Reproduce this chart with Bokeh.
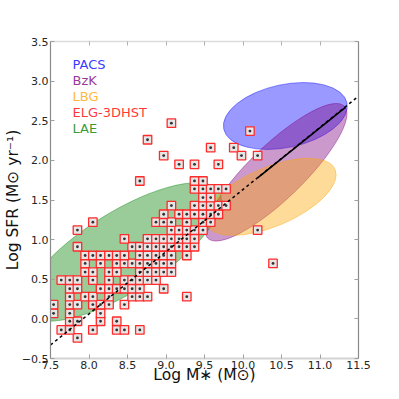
import math
from bokeh.plotting import figure
from bokeh.models import Label, LinearAxis, FixedTicker, CustomJSTickFormatter
from bokeh.embed import file_html
from bokeh.resources import INLINE

# ELG-3DHST galaxies: log SFR of each row and the log stellar masses in that row
sfr_rows = [-0.24, -0.14, -0.03, 0.07, 0.18, 0.28, 0.38, 0.49, 0.59, 0.70,
            0.80, 0.91, 1.01, 1.12, 1.22, 1.32, 1.43, 1.53, 1.64, 1.74,
            1.95, 2.06, 2.16, 2.26, 2.37, 2.47]
mass_rows = [
    [7.85],
    [7.64, 7.75, 8.05, 8.36, 8.46, 8.66],
    [7.75, 7.85, 8.15, 8.36],
    [7.54, 7.75, 8.15],
    [7.54, 7.75, 7.85, 8.05, 8.15, 8.26, 8.46],
    [7.75, 7.95, 8.05, 8.26, 8.56, 8.66, 8.76, 9.27],
    [7.75, 7.85, 8.15, 8.26, 8.36, 8.46, 8.56, 8.66, 8.97],
    [7.64, 7.75, 7.85, 8.05, 8.26, 8.46, 8.56, 8.66, 8.76, 8.87],
    [7.95, 8.05, 8.26, 8.36, 8.66, 8.76, 8.87, 8.97, 9.07],
    [7.95, 8.15, 8.36, 8.46, 8.56, 8.66, 8.76, 8.87, 8.97, 9.07, 10.39],
    [7.95, 8.05, 8.15, 8.26, 8.36, 8.46, 8.66, 8.76, 8.87, 8.97, 9.07, 9.27],
    [7.85, 8.56, 8.66, 8.76, 8.87, 8.97, 9.07, 9.17, 9.27, 9.37],
    [8.46, 8.76, 8.87, 8.97, 9.07, 9.17, 9.27, 9.37],
    [7.85, 9.07, 9.17, 9.27, 9.37, 9.48, 10.19],
    [8.05, 8.87, 8.97, 9.07, 9.27, 9.48, 9.58],
    [8.97, 9.17, 9.27, 9.37, 9.48, 9.58, 9.68],
    [9.07, 9.37, 9.48, 9.58, 9.68, 9.78],
    [9.48, 9.58],
    [9.37, 9.48, 9.58, 9.68, 9.78],
    [8.66, 9.37, 9.48],
    [9.17, 9.37, 9.68],
    [8.97, 9.98, 10.19],
    [9.58, 9.88],
    [8.76],
    [10.09],
    [9.07],
]

# Survey regions (ellipses): centre in data units, size in pixels, tilt in degrees
ell_names = ["LAE", "PACS", "BzK", "LBG"]
ell_mass = [8.435, 10.55, 10.43, 10.36]
ell_sfr = [0.844, 2.56, 1.85, 1.54]
ell_w = [228, 126, 190, 140]
ell_h = [80, 63, 54, 59]
ell_angle = [32, 12, 44, 23]
ell_colors = ["green", "blue", "purple", "orange"]

# Main-sequence relation
ms_mass = [7.5, 11.5]
ms_sfr = [-0.33, 2.81]
ms_fit_mass = [10.19, 11.33]
ms_fit_sfr = [1.78, 2.67]

legend_names = ["PACS", "BzK", "LBG", "ELG-3DHST", "LAE"]
legend_colors = ["blue", "purple", "orange", "red", "green"]

x_ticks = [7.5, 8.0, 8.5, 9.0, 9.5, 10.0, 10.5, 11.0, 11.5]
y_ticks = [-0.5, 0.0, 0.5, 1.0, 1.5, 2.0, 2.5, 3.0, 3.5]

x_title = "Log M\u2217 (M\u2299)"
y_title = "Log SFR (M\u2299 yr\u207b\u00b9)"

mass = [m for row in mass_rows for m in row]
sfr = [s for s, row in zip(sfr_rows, mass_rows) for _ in row]

FONT = "DejaVu Sans"

p = figure(width=399, height=399, x_range=(7.5, 11.5), y_range=(-0.5, 3.5),
           output_backend="svg", toolbar_location=None,
           min_border_left=50, min_border_right=41, min_border_top=41,
           min_border_bottom=41)
p.xgrid.visible = False
p.ygrid.visible = False
p.outline_line_color = None
p.background_fill_color = "white"

fmt = CustomJSTickFormatter(code="return tick.toFixed(1).replace('-', '\\u2212');")
blank = CustomJSTickFormatter(code="return '';")

for ax in list(p.xaxis) + list(p.yaxis):
    ax.major_label_text_font = FONT
    ax.major_label_text_font_size = "11px"
    ax.major_label_text_color = "#262626"
    ax.major_label_standoff = 2
    ax.major_tick_in = 4
    ax.major_tick_out = 0
    ax.major_tick_line_color = "#a0a0a0"
    ax.minor_tick_line_color = None
    ax.axis_label_text_font = FONT
    ax.axis_label_text_font_size = "15.5px"
    ax.axis_label_text_font_style = "normal"
    ax.axis_label_text_color = "#111111"
for ax in p.xaxis:
    ax.ticker = FixedTicker(ticks=x_ticks)
    ax.formatter = fmt
    ax.axis_line_color = "#d4d4d4"
    ax.axis_line_width = 2
    ax.axis_label = x_title
    ax.axis_label_standoff = -6
for ax in p.yaxis:
    ax.ticker = FixedTicker(ticks=y_ticks)
    ax.formatter = fmt
    ax.axis_line_color = "#8a8a8a"
    ax.axis_line_width = 1.2
    ax.axis_label = y_title
    ax.axis_label_standoff = -3

top = LinearAxis(ticker=FixedTicker(ticks=x_ticks), formatter=blank,
                 axis_line_color="#dcdcdc", axis_line_width=1.5,
                 major_tick_in=4, major_tick_out=0, major_tick_line_color="#b0b0b0",
                 minor_tick_line_color=None, major_label_text_font_size="1px")
right = LinearAxis(ticker=FixedTicker(ticks=y_ticks), formatter=blank,
                   axis_line_color="#8a8a8a", axis_line_width=1.2,
                   major_tick_in=4, major_tick_out=0, major_tick_line_color="#a0a0a0",
                   minor_tick_line_color=None, major_label_text_font_size="1px")
p.add_layout(top, "above")
p.add_layout(right, "right")

# ellipses
for name, mx, sy, w, h, a, c in zip(ell_names, ell_mass, ell_sfr, ell_w, ell_h,
                                    ell_angle, ell_colors):
    p.ellipse(x=[mx], y=[sy], width=[w], height=[h], angle=[math.radians(a)],
              width_units="screen", height_units="screen",
              fill_color=c, fill_alpha=0.4, line_color=c, line_alpha=0.4,
              line_width=1)

# ELG squares with galaxy dots
p.scatter(mass, sfr, marker="square", size=8.5, fill_color="#e6e6e6",
          line_color="#ff2a2a", line_width=1.3)
p.scatter(mass, sfr, marker="circle", size=2.8, fill_color="#111111",
          line_color=None, fill_alpha=0.85)

# main sequence
p.line(ms_mass, ms_sfr, line_color="black", line_width=1.5, line_dash="3 3")
p.line(ms_fit_mass, ms_fit_sfr, line_color="black", line_width=1.6)

# legend text
for i, (name, col) in enumerate(zip(legend_names, legend_colors)):
    p.add_layout(Label(x=22, y=294 - 16 * i, x_units="screen", y_units="screen",
                       text=name, text_color=col, text_alpha=0.8,
                       text_font=FONT, text_font_size="13px",
                       text_baseline="alphabetic", text_align="left"))

open("out.html", "w").write(file_html(p, INLINE))
